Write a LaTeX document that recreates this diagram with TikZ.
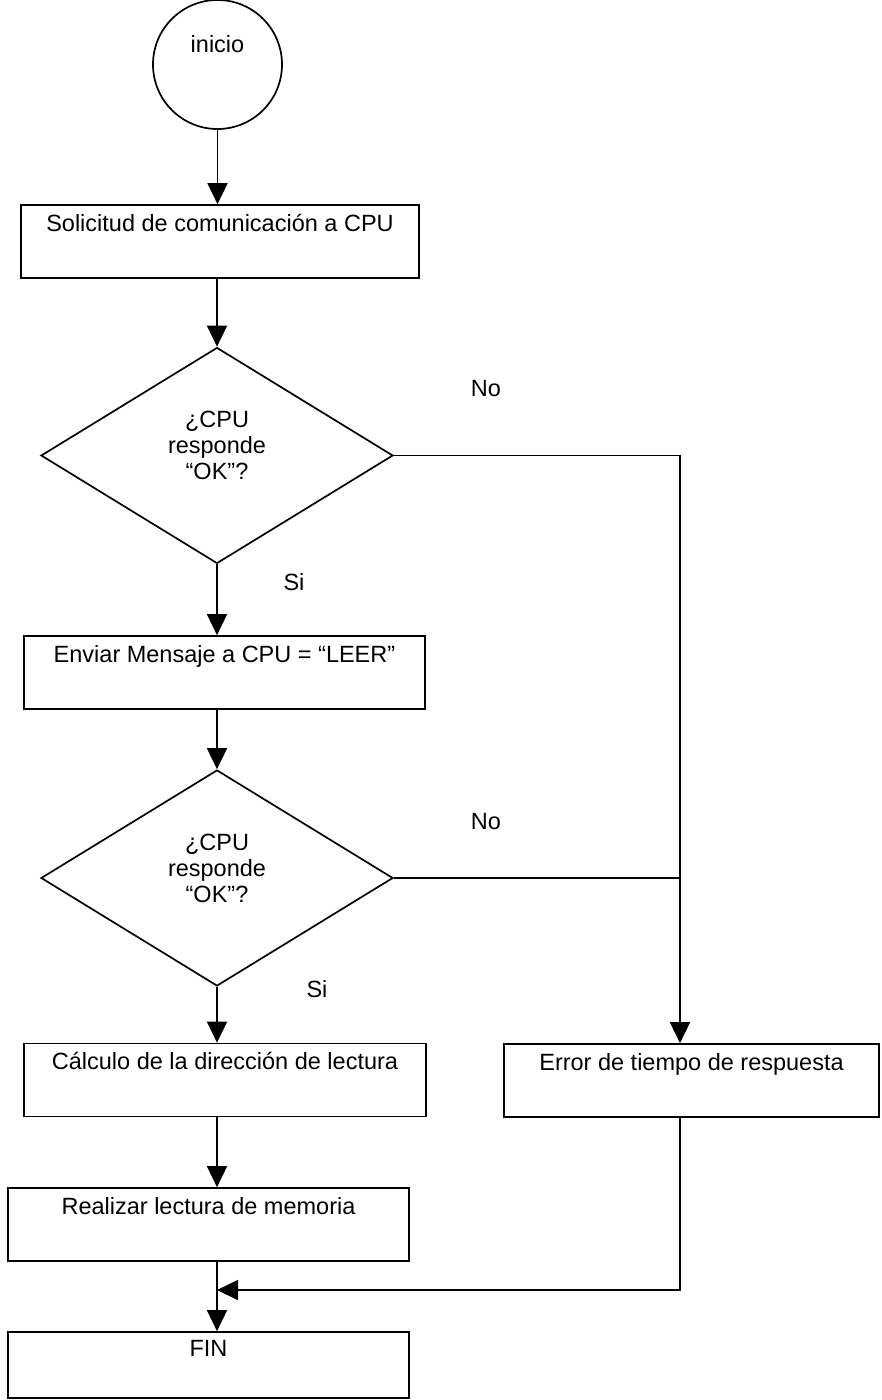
\documentclass[tikz,border=0pt]{standalone}
\usepackage{fontspec}
\setmainfont{Liberation Sans}
\usetikzlibrary{arrows.meta,shapes.geometric}
\begin{document}
\begin{tikzpicture}[x=1pt,y=-1pt,
  every node/.style={font=\fontsize{23.5pt}{26pt}\selectfont},
  lw/.style={line width=1.7pt},
  box/.style={draw,lw,rectangle,inner sep=0pt,text height=26.4pt,text depth=46.6pt},
  dec/.style={draw,lw,diamond,inner sep=0pt,minimum width=352pt,minimum height=216pt,align=center},
  arr/.style={lw,-{Triangle[length=21pt,width=20pt]}},
  lin/.style={lw},
  lab/.style={inner sep=0pt}]
\useasboundingbox (0,0) rectangle (881,1400);

\node[draw,lw,circle,minimum size=129pt,inner sep=0pt,text height=10pt,text depth=35pt] (c) at (217.5,64.5) {inicio};
\node[box,minimum width=398pt] (b1) at (220,241.5) {Solicitud de comunicación a CPU};
\node[dec] (d1) at (217,455.5) {¿CPU\\responde\\“OK”?\rule[-20pt]{0pt}{20pt}};
\node[box,minimum width=401pt] (b2) at (224.5,672.5) {Enviar Mensaje a CPU = “LEER”};
\node[dec] (d2) at (217,878) {¿CPU\\responde\\“OK”?\rule[-20pt]{0pt}{20pt}};
\node[box,minimum width=402pt] (b3) at (225,1080) {Cálculo de la dirección de lectura};
\node[box,minimum width=375pt] (err) at (691.5,1080.5) {Error de tiempo de respuesta};
\node[box,minimum width=401pt] (b4) at (208.5,1224.5) {Realizar lectura de memoria};
\node[box,minimum width=401pt,text height=24.4pt,text depth=41.6pt] (fin) at (208.5,1365) {FIN};

\node[lab] (no1) at (486,389) {No};
\node[lab] (no2) at (486,822) {No};
\node[lab] (si1) at (294,582) {Si};
\node[lab] (si2) at (317,989) {Si};

\coordinate (j1) at (680,455.5);
\coordinate (m) at (217,1290);

\draw[arr] (c.south) -- (c.south |- b1.north);
\draw[arr] (d1.north |- b1.south) -- (d1.north);
\draw[arr] (d1.south) -- (d1.south |- b2.north);
\draw[arr] (d2.north |- b2.south) -- (d2.north);
\draw[arr] (d2.south) -- (d2.south |- b3.north);
\draw[arr] (d2.south |- b3.south) -- (d2.south |- b4.north);
\draw[arr] (d2.south |- b4.south) -- (d2.south |- fin.north);
\draw[arr] (d1.east) -- (j1) -- (j1 |- err.north);
\draw[lin] (d2.east) -- (d2.east -| j1);
\draw[arr] (j1 |- err.south) -- (j1 |- m) -- (m);
\end{tikzpicture}
\end{document}
